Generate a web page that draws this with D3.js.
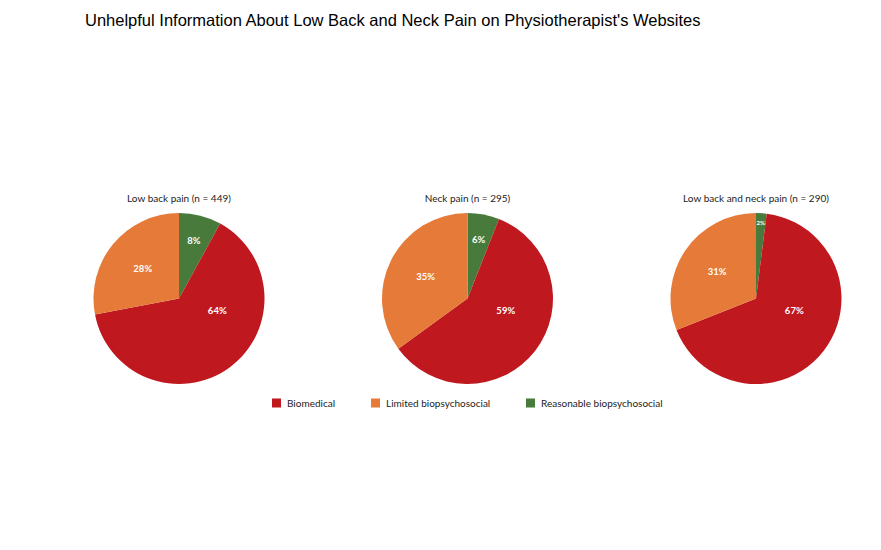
<!DOCTYPE html>
<html>
<head>
<meta charset="utf-8">
<script src="https://cdn.jsdelivr.net/npm/d3@7"></script>
<style>
  body { margin: 0; background: #fff; }
</style>
</head>
<body>
<svg id="chart" width="881" height="550"></svg>
<script>
/*
 three pies, one per website group
*/

const chartTitle = "Unhelpful Information About Low Back and Neck Pain on Physiotherapist's Websites";
const pieTitles = ["Low back pain (n = 449)", "Neck pain (n = 295)", "Low back and neck pain (n = 290)"];
const categories = ["Biomedical", "Limited biopsychosocial", "Reasonable biopsychosocial"];
const biomedical = [64, 59, 67];
const limited = [28, 35, 31];
const reasonable = [8, 6, 2];

const colors = {
    "Biomedical": "#c0181f",
    "Limited biopsychosocial": "#e67a38",
    "Reasonable biopsychosocial": "#487a3b"
};
const labelFont = "Lato, 'Open Sans', sans-serif";

const width = 881, height = 550;
const radius = 85.5;
const svg = d3.select("#chart");

svg.append("text")
    .attr("x", 85)
    .attr("y", 26)
    .attr("font-family", "'Liberation Sans', Arial, sans-serif")
    .attr("font-size", 16.5)
    .attr("fill", "#000")
    .text(chartTitle);

// pie centres
const xscale = d3.scalePoint()
    .domain(pieTitles)
    .range([179, 756]);
const cy = 298.5;

// clockwise from 12 o'clock: reasonable, biomedical, limited
const pie = d3.pie()
    .sort(null)
    .value(d => d.value);
const arc = d3.arc().innerRadius(0).outerRadius(radius);

pieTitles.forEach((t, i) => {
    const slices = pie([
        { key: categories[2], value: reasonable[i] },
        { key: categories[0], value: biomedical[i] },
        { key: categories[1], value: limited[i] },
    ]);
    const g = svg.append("g")
        .attr("transform", `translate(${xscale(t)}, ${cy})`);

    g.append("text")
        .attr("y", -radius - 11)
        .attr("text-anchor", "middle")
        .attr("font-family", labelFont)
        .attr("font-size", 10)
        .attr("fill", "#222")
        .text(t);

    g.selectAll("path")
        .data(slices)
        .join("path")
        .attr("d", arc)
        .attr("fill", d => colors[d.data.key]);

    // label placement roughly like the office "best fit"
    g.selectAll("text.lbl")
        .data(slices)
        .join("text")
        .attr("class", "lbl")
        .attr("transform", d => {
            var a = (d.startAngle + d.endAngle) / 2;
            var r;
            if (d.data.key == categories[0]) { a = Math.min(a, 1.88); r = radius * 0.47; }
            else if (d.data.key == categories[1]) { r = radius * 0.55; }
            else { r = d.data.value < 5 ? radius * 0.89 : radius * 0.7; }
            return `translate(${Math.sin(a) * r}, ${-Math.cos(a) * r})`;
        })
        .attr("text-anchor", "middle")
        .attr("dy", "0.35em")
        .attr("font-family", labelFont)
        .attr("font-weight", "bold")
        .attr("font-size", d => d.data.value < 5 ? 6 : 9.5)
        .attr("fill", "#fff")
        .text(d => d.data.value + "%");
});

// legend
const legendX = d3.scaleOrdinal()
    .domain(categories)
    .range([272, 371, 526]);
const leg = svg.append("g").attr("transform", "translate(0, 403)");
const item = leg.selectAll("g")
    .data(categories)
    .join("g")
    .attr("transform", d => `translate(${legendX(d)}, 0)`);
item.append("rect")
    .attr("y", -4.5)
    .attr("width", 9)
    .attr("height", 9)
    .attr("fill", d => colors[d]);
item.append("text")
    .attr("x", 15)
    .attr("dy", "0.35em")
    .attr("font-family", labelFont)
    .attr("font-size", 10)
    .attr("fill", "#222")
    .text(d => d);
</script>
</body>
</html>
